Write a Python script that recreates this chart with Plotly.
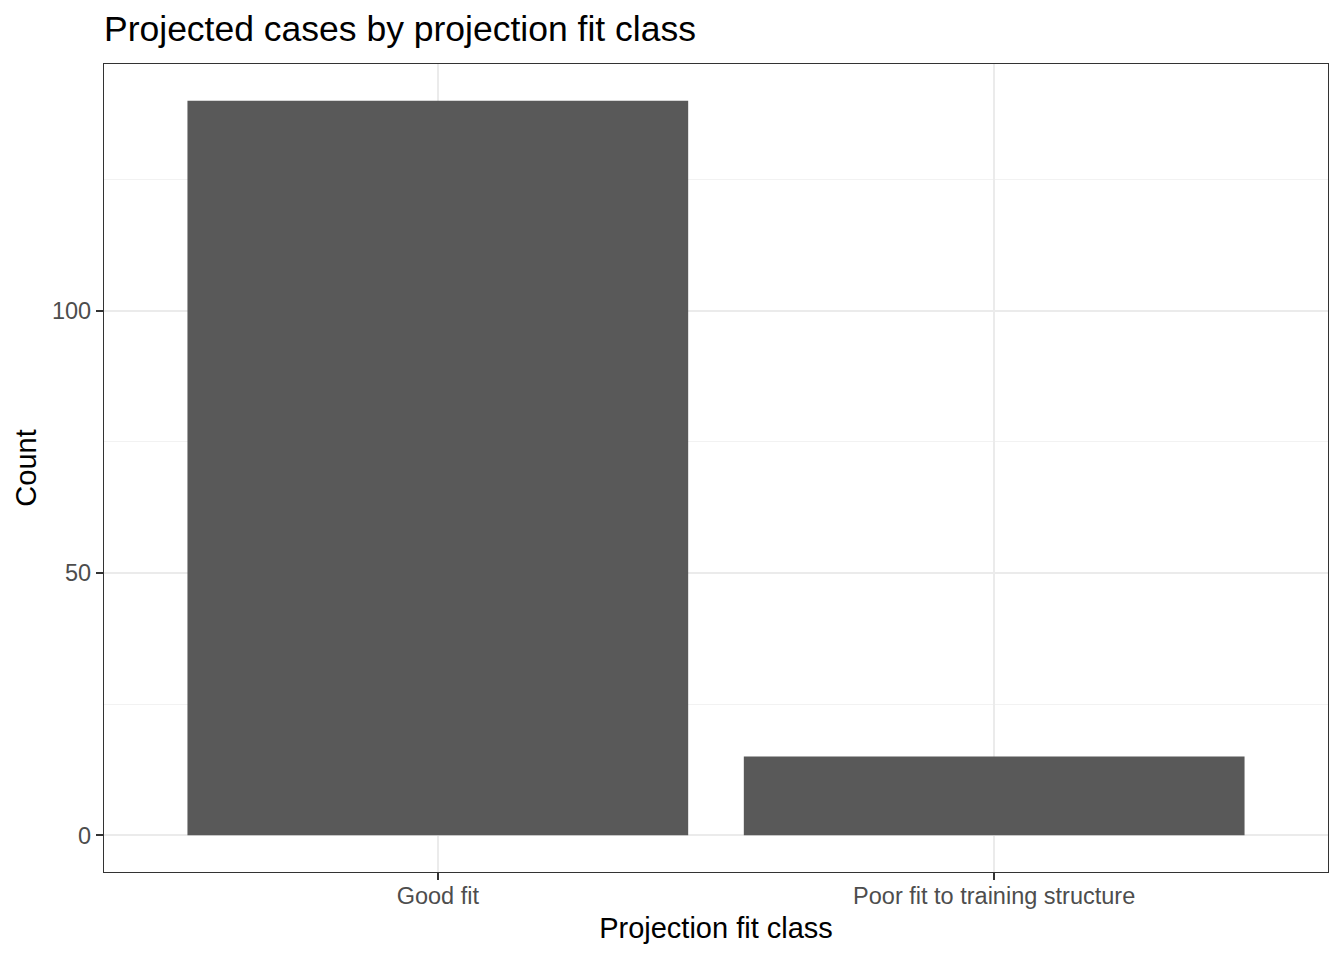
import plotly.graph_objects as go

# data
categories = ["Good fit", "Poor fit to training structure"]
counts = [140, 15]

y_major = [0, 50, 100]
y_minor = [25, 75, 125]

FONT = "Liberation Sans, Arial, sans-serif"
# the page body adds an 8px margin, so the figure is drawn 8px smaller
W, H = 1336, 952

fig = go.Figure()
fig.add_trace(go.Bar(
    x=categories, y=counts, width=0.9,
    marker=dict(color="#595959", line=dict(width=0)),
    hoverinfo="x+y",
))

fig.update_layout(
    width=W, height=H,
    paper_bgcolor="white", plot_bgcolor="white",
    margin=dict(l=96, r=16, t=56, b=88),
    showlegend=False,
    font=dict(family=FONT, color="#000000"),
    title=dict(
        text="Projected cases by projection fit class",
        x=96 / W, xanchor="left", xref="container",
        y=1 - 21 / H, yanchor="middle", yref="container",
        font=dict(size=35.5, color="#000000"),
    ),
)

fig.update_xaxes(
    type="category", range=[-0.6, 1.6],
    showgrid=True, gridcolor="#EBEBEB", gridwidth=2,
    showline=True, linecolor="#333333", linewidth=1.2, mirror=True,
    ticks="outside", ticklen=7, tickwidth=2, tickcolor="#333333",
    ticklabelstandoff=-4,
    tickfont=dict(size=23.5, color="#4D4D4D"),
    title=dict(text="Projection fit class", font=dict(size=29, color="#000000"), standoff=9),
    zeroline=False,
)
fig.update_yaxes(
    range=[-7, 147],
    tickvals=y_major, ticktext=[str(v) for v in y_major],
    showgrid=True, gridcolor="#EBEBEB", gridwidth=2,
    minor=dict(tickvals=y_minor, showgrid=True, gridcolor="#F2F2F2", gridwidth=1, ticks=""),
    showline=True, linecolor="#333333", linewidth=1.2, mirror=True,
    ticks="outside", ticklen=7, tickwidth=2, tickcolor="#333333",
    tickfont=dict(size=23.5, color="#4D4D4D"),
    title=dict(text="Count", font=dict(size=29, color="#000000"), standoff=6),
    zeroline=False,
)

fig.write_html("out.html")
